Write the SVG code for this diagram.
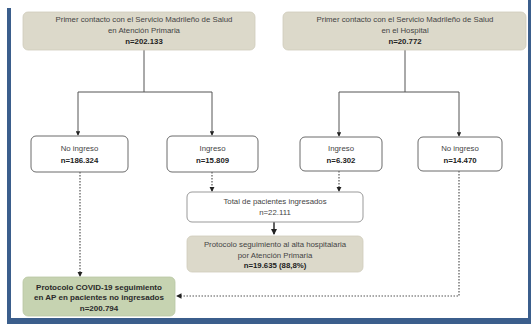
<svg xmlns="http://www.w3.org/2000/svg" width="531" height="324" viewBox="0 0 531 324">
<defs>
<style>
text{font-family:"Liberation Sans",Arial,sans-serif;font-size:7.8px;fill:#444;text-anchor:middle}
.b{font-weight:bold;fill:#222}
.beige{fill:#dcd9ca;stroke:#cfcbbb;stroke-width:0.8}
.white{fill:#fff;stroke:#6b6b6b;stroke-width:1}
.green{fill:#c6d3b1;stroke:#b9c7a3;stroke-width:0.8}
.g{font-weight:bold;fill:#2a2a2a;font-size:8px}
.ln{fill:none;stroke:#555;stroke-width:1}
.dot{fill:none;stroke:#555;stroke-width:1.2;stroke-dasharray:1.5 1.5}
</style>
<marker id="ah" viewBox="0 0 6 6" refX="5" refY="3" markerWidth="4.5" markerHeight="4.5" orient="auto">
<path d="M0,0 L6,3 L0,6 z" fill="#222"/>
</marker>
</defs>
<rect width="531" height="324" fill="#fff"/>
<g id="frame">
<rect x="7" y="8" width="4" height="316" fill="#3b5e8c"/>
<rect x="528" y="0" width="3" height="324" fill="#3b5e8c"/>
<rect x="7" y="318" width="524" height="6" fill="#3b5e8c"/>
</g>
<g id="connectors">
<path class="ln" d="M144,50 V92 M78,92 H212 M405,50 V92 M339,92 H459"/>
<path class="ln" d="M78,92 V135" marker-end="url(#ah)"/>
<path class="ln" d="M212,92 V135" marker-end="url(#ah)"/>
<path class="ln" d="M339,92 V136" marker-end="url(#ah)"/>
<path class="ln" d="M459,92 V136" marker-end="url(#ah)"/>
<path class="dot" d="M212,172 V191" marker-end="url(#ah)"/>
<path class="dot" d="M339,171 V191" marker-end="url(#ah)"/>
<path class="ln" style="stroke-width:1.4;stroke:#222" d="M274,222 V234" marker-end="url(#ah)"/>
<path class="dot" d="M80,172 V276" marker-end="url(#ah)"/>
<path class="dot" d="M459,171 V296 H177" marker-end="url(#ah)"/>
</g>
<g id="n1">
<rect class="beige" x="23" y="12" width="232" height="38" rx="5"/>
<text x="144" y="22">Primer contacto con el Servicio Madrileño de Salud</text>
<text x="144" y="33">en  Atención Primaria</text>
<text class="b" x="144" y="43.5">n=202.133</text>
</g>
<g id="n2">
<rect class="beige" x="283" y="12" width="243" height="38" rx="5"/>
<text x="405" y="22">Primer contacto con el Servicio Madrileño de Salud</text>
<text x="405" y="33">en el Hospital</text>
<text class="b" x="405" y="43.5">n=20.772</text>
</g>
<g id="n3">
<rect class="white" x="31" y="136" width="97" height="36" rx="5"/>
<text x="79.5" y="151">No ingreso</text>
<text class="b" x="79.5" y="163">n=186.324</text>
</g>
<g id="n4">
<rect class="white" x="167" y="136" width="91" height="36" rx="5"/>
<text x="212.5" y="151">Ingreso</text>
<text class="b" x="212.5" y="163">n=15.809</text>
</g>
<g id="n5">
<rect class="white" x="300" y="137" width="82" height="34" rx="5"/>
<text x="341" y="151">Ingreso</text>
<text class="b" x="341" y="163">n=6.302</text>
</g>
<g id="n6">
<rect class="white" x="418" y="137" width="84" height="34" rx="5"/>
<text x="460" y="151">No ingreso</text>
<text class="b" x="460" y="163">n=14.470</text>
</g>
<g id="n7">
<rect class="white" x="187" y="192" width="176" height="30" rx="5" style="stroke:#999"/>
<text x="275" y="203.5">Total de pacientes ingresados</text>
<text x="275" y="215">n=22.111</text>
</g>
<g id="n8">
<rect class="beige" x="187" y="236" width="176" height="36" rx="5"/>
<text x="275" y="246.5">Protocolo seguimiento  al alta hospitalaria</text>
<text x="275" y="257.5">por Atención Primaria</text>
<text class="b" x="275" y="268">n=19.635 (88,8%)</text>
</g>
<g id="n9">
<rect class="green" x="23" y="277" width="152" height="39" rx="5"/>
<text class="g" x="99" y="289.5">Protocolo COVID-19 seguimiento</text>
<text class="g" x="99" y="300">en AP en pacientes no ingresados</text>
<text class="g" x="99" y="310.5">n=200.794</text>
</g>
</svg>
